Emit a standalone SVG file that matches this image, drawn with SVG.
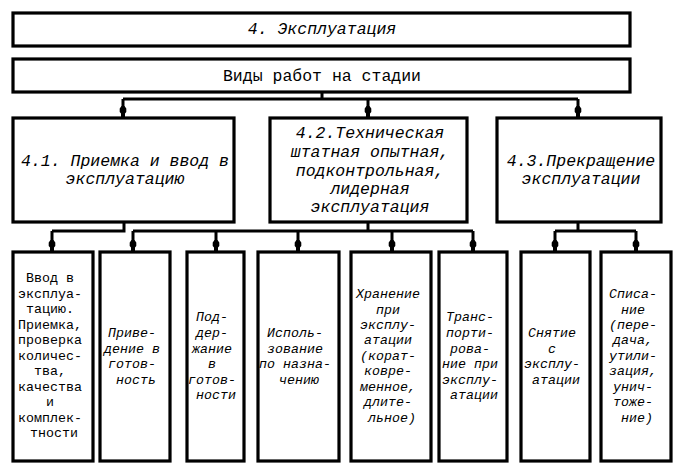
<svg xmlns="http://www.w3.org/2000/svg" width="683" height="473" viewBox="0 0 683 473">
<defs>
<style>
.b{fill:#fff;stroke:#000;stroke-width:3.2;stroke-linejoin:miter}
.c{fill:none;stroke:#000;stroke-width:3}
.t{font-family:"Liberation Mono","Courier New",monospace;fill:#000;text-anchor:middle}
.u{font-size:16.5px}
.s{font-size:13.3px}
.i{font-style:italic}
</style>
<marker id="ah" markerUnits="userSpaceOnUse" markerWidth="14" markerHeight="10" viewBox="-13 -5 14 10" refX="0" refY="0" orient="auto">
<path d="M-12,-1.5 L-9.5,-3.3 L-6,-3.3 L-4.5,-2 L0,-2 L0,2 L-4.5,2 L-6,3.3 L-9.5,3.3 L-12,1.5 Z" fill="#000"/>
</marker>
</defs>
<g id="connectors">
<path class="c" d="M322,92 V99 M123,99 H578"/>
<path class="c" d="M123,99 V118" marker-end="url(#ah)"/>
<path class="c" d="M368,99 V118" marker-end="url(#ah)"/>
<path class="c" d="M578,99 V118" marker-end="url(#ah)"/>
<path class="c" d="M124,222 V231 H52"/>
<path class="c" d="M52,231 V252" marker-end="url(#ah)"/>
<path class="c" d="M368,222 V231 M133,231 H473"/>
<path class="c" d="M133,231 V252" marker-end="url(#ah)"/>
<path class="c" d="M216,231 V252" marker-end="url(#ah)"/>
<path class="c" d="M298,231 V252" marker-end="url(#ah)"/>
<path class="c" d="M392,231 V252" marker-end="url(#ah)"/>
<path class="c" d="M473,231 V252" marker-end="url(#ah)"/>
<path class="c" d="M578,222 V231 M555,231 H636"/>
<path class="c" d="M555,231 V252" marker-end="url(#ah)"/>
<path class="c" d="M636,231 V252" marker-end="url(#ah)"/>
</g>
<g id="n-title">
<rect class="b" x="13" y="13" width="617" height="33"/>
<text class="t u i" x="322" y="34">4. Эксплуатация</text>
</g>
<g id="n-types">
<rect class="b" x="13" y="59" width="617" height="33"/>
<text class="t u" x="322" y="81">Виды работ на стадии</text>
</g>
<g id="n-4-1">
<rect class="b" x="13" y="118" width="221" height="104"/>
<text class="t u i" x="125" y="166">4.1. Приемка и ввод в</text>
<text class="t u i" x="125" y="184">эксплуатацию</text>
</g>
<g id="n-4-2">
<rect class="b" x="270" y="118" width="197" height="104"/>
<text class="t u i" x="370" y="138">4.2.Техническая</text>
<text class="t u i" x="370" y="157">штатная опытная,</text>
<text class="t u i" x="370" y="175.5">подконтрольная,</text>
<text class="t u i" x="370" y="194">лидерная</text>
<text class="t u i" x="370" y="212">эксплуатация</text>
</g>
<g id="n-4-3">
<rect class="b" x="497" y="118" width="164" height="104"/>
<text class="t u i" x="581" y="166">4.3.Прекращение</text>
<text class="t u i" x="581" y="184">эксплуатации</text>
</g>
<g id="n-b1">
<rect class="b" x="13" y="252" width="80" height="209"/>
<text class="t s" x="54" y="282">
<tspan x="54" y="282">Ввод в</tspan>
<tspan x="54" y="297.5">эксплуа-</tspan>
<tspan x="54" y="313">тацию.</tspan>
<tspan x="54" y="328.5">Приемка,</tspan>
<tspan x="54" y="344">проверка</tspan>
<tspan x="54" y="359.5">количес-</tspan>
<tspan x="54" y="375">тва,</tspan>
<tspan x="54" y="390.5">качества</tspan>
<tspan x="54" y="406">и</tspan>
<tspan x="54" y="421.5">комплек-</tspan>
<tspan x="54" y="437">тности</tspan>
</text>
</g>
<g id="n-b2">
<rect class="b" x="100" y="252" width="70" height="209"/>
<text class="t s i">
<tspan x="136" y="337">Приве-</tspan>
<tspan x="136" y="352.5">дение в</tspan>
<tspan x="136" y="368">готов-</tspan>
<tspan x="136" y="383.5">ность</tspan>
</text>
</g>
<g id="n-b3">
<rect class="b" x="187" y="252" width="57" height="209"/>
<text class="t s i">
<tspan x="216" y="321">Под-</tspan>
<tspan x="216" y="337">дер-</tspan>
<tspan x="216" y="352.5">жание</tspan>
<tspan x="216" y="368">в</tspan>
<tspan x="216" y="383.5">готов-</tspan>
<tspan x="216" y="399">ности</tspan>
</text>
</g>
<g id="n-b4">
<rect class="b" x="258" y="252" width="81" height="209"/>
<text class="t s i">
<tspan x="299" y="337">Исполь-</tspan>
<tspan x="299" y="352.5">зование</tspan>
<tspan x="299" y="368">по назна-</tspan>
<tspan x="299" y="383.5">чению</tspan>
</text>
</g>
<g id="n-b5">
<rect class="b" x="351" y="252" width="80" height="209"/>
<text class="t s i">
<tspan x="392" y="298">Хранение</tspan>
<tspan x="392" y="314">при</tspan>
<tspan x="392" y="329">эксплу-</tspan>
<tspan x="392" y="344">атации</tspan>
<tspan x="392" y="360">(корат-</tspan>
<tspan x="392" y="375">ковре-</tspan>
<tspan x="392" y="391">менное,</tspan>
<tspan x="392" y="406">длите-</tspan>
<tspan x="392" y="422">льное)</tspan>
</text>
</g>
<g id="n-b6">
<rect class="b" x="439" y="252" width="68" height="209"/>
<text class="t s i">
<tspan x="474" y="321">Транс-</tspan>
<tspan x="474" y="337">порти-</tspan>
<tspan x="474" y="352.5">рова-</tspan>
<tspan x="474" y="368">ние при</tspan>
<tspan x="474" y="383.5">эксплу-</tspan>
<tspan x="474" y="399">атации</tspan>
</text>
</g>
<g id="n-b7">
<rect class="b" x="521" y="252" width="69" height="209"/>
<text class="t s i">
<tspan x="556" y="337">Снятие</tspan>
<tspan x="556" y="352.5">с</tspan>
<tspan x="556" y="368">эксплу-</tspan>
<tspan x="556" y="383.5">атации</tspan>
</text>
</g>
<g id="n-b8">
<rect class="b" x="601" y="252" width="70" height="209"/>
<text class="t s i">
<tspan x="637" y="298">Списа-</tspan>
<tspan x="637" y="314">ние</tspan>
<tspan x="637" y="329">(пере-</tspan>
<tspan x="637" y="344">дача,</tspan>
<tspan x="637" y="360">утили-</tspan>
<tspan x="637" y="375">зация,</tspan>
<tspan x="637" y="391">унич-</tspan>
<tspan x="637" y="406">тоже-</tspan>
<tspan x="637" y="422">ние)</tspan>
</text>
</g>
</svg>
